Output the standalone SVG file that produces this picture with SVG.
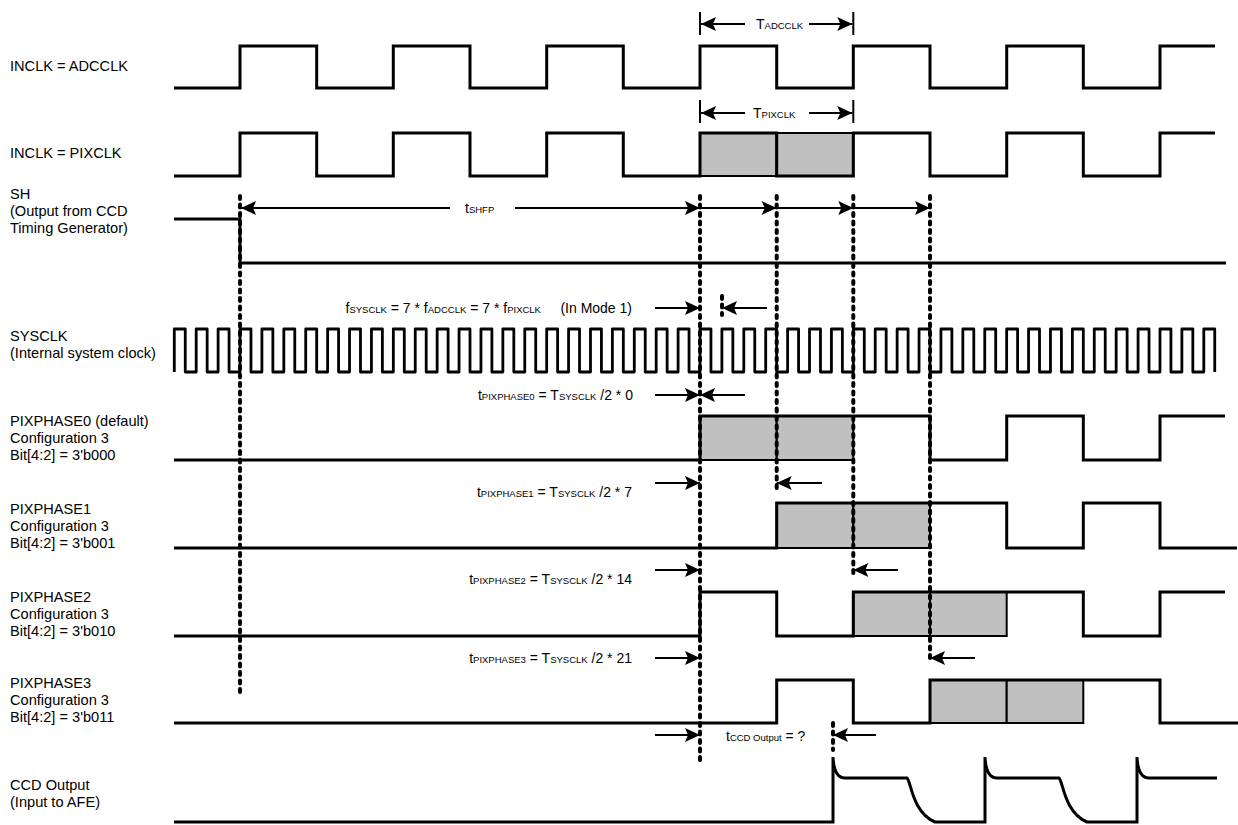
<svg xmlns="http://www.w3.org/2000/svg" width="1238" height="825" viewBox="0 0 1238 825">
<defs>
<marker id="ah" markerUnits="userSpaceOnUse" markerWidth="15" markerHeight="14" refX="15" refY="7" orient="auto" overflow="visible">
<path d="M0,0 L15,7 L0,14 L3,7 Z" fill="#000"/>
</marker>
<style>
.w{fill:none;stroke:#000;stroke-width:3;stroke-linejoin:miter}
.sc{fill:none;stroke:#000;stroke-width:2.8;stroke-linejoin:round}
.g{fill:#c0c0c0;stroke:#000;stroke-width:2}
.dot{fill:none;stroke:#000;stroke-width:4;stroke-dasharray:3 5.5;stroke-linecap:round}
.ar{fill:none;stroke:#000;stroke-width:2;marker-end:url(#ah)}
.tk{fill:none;stroke:#000;stroke-width:2}
text{font-family:"Liberation Sans",Arial,sans-serif;font-size:14px;fill:#000}
.lb{font-size:14.6px}
.s{font-size:9.5px}
</style>
</defs>
<rect width="1238" height="825" fill="#fff"/>

<g id="adcclk">
<text class="lb" x="10" y="71">INCLK = ADCCLK</text>
<path class="w" d="M174,88 H240 V46 H316.7 V88 H393.3 V46 H470 V88 H546.7 V46 H623.3 V88 H700 V46 H776.7 V88 H853.3 V46 H930 V88 H1006.7 V46 H1083.3 V88 H1160 V46 H1215"/>
</g>

<g id="pixclk">
<text class="lb" x="10" y="158">INCLK = PIXCLK</text>
<rect class="g" x="700" y="133" width="76.7" height="43"/>
<rect class="g" x="776.7" y="133" width="76.6" height="43"/>
<path class="w" d="M174,176 H240 V133 H316.7 V176 H393.3 V133 H470 V176 H546.7 V133 H623.3 V176 H700 V133 H776.7 V176 H853.3 V133 H930 V176 H1006.7 V133 H1083.3 V176 H1160 V133 H1215"/>
</g>

<g id="sh">
<text class="lb" x="10" y="199">SH</text>
<text class="lb" x="10" y="216">(Output from CCD</text>
<text class="lb" x="10" y="233">Timing Generator)</text>
<path class="w" d="M174,219 H240 V263 H1226"/>
</g>

<g id="sysclk">
<text class="lb" x="10" y="341">SYSCLK</text>
<text class="lb" x="10" y="358">(Internal system clock)</text>
<path class="sc" d="M174.3,372 v-43h10.952v43h10.952 v-43h10.952v43h10.952 v-43h10.952v43h10.952 v-43h10.952v43h10.952 v-43h10.952v43h10.952 v-43h10.952v43h10.952 v-43h10.952v43h10.952 v-43h10.952v43h10.952 v-43h10.952v43h10.952 v-43h10.952v43h10.952 v-43h10.952v43h10.952 v-43h10.952v43h10.952 v-43h10.952v43h10.952 v-43h10.952v43h10.952 v-43h10.952v43h10.952 v-43h10.952v43h10.952 v-43h10.952v43h10.952 v-43h10.952v43h10.952 v-43h10.952v43h10.952 v-43h10.952v43h10.952 v-43h10.952v43h10.952 v-43h10.952v43h10.952 v-43h10.952v43h10.952 v-43h10.952v43h10.952 v-43h10.952v43h10.952 v-43h10.952v43h10.952 v-43h10.952v43h10.952 v-43h10.952v43h10.952 v-43h10.952v43h10.952 v-43h10.952v43h10.952 v-43h10.952v43h10.952 v-43h10.952v43h10.952 v-43h10.952v43h10.952 v-43h10.952v43h10.952 v-43h10.952v43h10.952 v-43h10.952v43h10.952 v-43h10.952v43h10.952 v-43h10.952v43h10.952 v-43h10.952v43h10.952 v-43h10.952v43h10.952 v-43h10.952v43h10.952 v-43h10.952v43h10.952 v-43h10.952v43h10.952 v-43h10.952v43h10.952 v-43h10.952v43h10.952 v-43h10.952v43h10.952 v-43h10.952v43h10.952 v-43h10.952v43"/>
</g>

<g id="pixphase0">
<text class="lb" x="10" y="426">PIXPHASE0 (default)</text>
<text class="lb" x="10" y="443">Configuration 3</text>
<text class="lb" x="10" y="460">Bit[4:2] = 3'b000</text>
<rect class="g" x="700" y="416" width="76.7" height="44"/>
<rect class="g" x="776.7" y="416" width="76.6" height="44"/>
<path class="w" d="M174,460 H700 V416 H930 V460 H1006.7 V416 H1083.3 V460 H1160 V416 H1225"/>
</g>

<g id="pixphase1">
<text class="lb" x="10" y="514">PIXPHASE1</text>
<text class="lb" x="10" y="531">Configuration 3</text>
<text class="lb" x="10" y="548">Bit[4:2] = 3'b001</text>
<rect class="g" x="776.7" y="503" width="76.6" height="45"/>
<rect class="g" x="853.3" y="503" width="76.7" height="45"/>
<path class="w" d="M174,548 H776.7 V503 H1006.7 V548 H1083.3 V503 H1160 V548 H1237"/>
</g>

<g id="pixphase2">
<text class="lb" x="10" y="602">PIXPHASE2</text>
<text class="lb" x="10" y="619">Configuration 3</text>
<text class="lb" x="10" y="636">Bit[4:2] = 3'b010</text>
<rect class="g" x="853.3" y="592" width="76.7" height="44"/>
<rect class="g" x="930" y="592" width="76.7" height="44"/>
<path class="w" d="M174,636 H700 V592 H776.7 V636 H853.3 V592 H1083.3 V636 H1160 V592 H1225"/>
</g>

<g id="pixphase3">
<text class="lb" x="10" y="688">PIXPHASE3</text>
<text class="lb" x="10" y="705">Configuration 3</text>
<text class="lb" x="10" y="722">Bit[4:2] = 3'b011</text>
<rect class="g" x="930" y="680" width="76.7" height="43"/>
<rect class="g" x="1006.7" y="680" width="76.6" height="43"/>
<path class="w" d="M174,723 H776.7 V680 H853.3 V723 H930 V680 H1160 V723 H1238"/>
</g>

<g id="ccdoutput">
<text class="lb" x="10" y="790">CCD Output</text>
<text class="lb" x="10" y="807">(Input to AFE)</text>
<path class="w" d="M174,822 H833 V757 Q834,778 845,778 H907 C911,781 912,812 935,822 H985 V757 Q986,778 997,778 H1059 C1063,781 1064,812 1087,822 H1137 V757 Q1138,778 1149,778 H1217"/>
</g>

<g id="connectors">
<line class="dot" x1="240" y1="196" x2="240" y2="693"/>
<line class="dot" x1="700" y1="196" x2="700" y2="760"/>
<line class="dot" x1="776.7" y1="196" x2="776.7" y2="488"/>
<line class="dot" x1="853.3" y1="196" x2="853.3" y2="576"/>
<line class="dot" x1="930" y1="196" x2="930" y2="663"/>
<line class="dot" x1="722" y1="296" x2="722" y2="315"/>
<line class="dot" x1="833" y1="723" x2="833" y2="750"/>

<line class="tk" x1="700" y1="12" x2="700" y2="35"/>
<line class="tk" x1="853.3" y1="12" x2="853.3" y2="35"/>
<line class="ar" x1="745" y1="24" x2="701" y2="24"/>
<line class="ar" x1="809" y1="24" x2="852.3" y2="24"/>
<text x="756" y="29">T<tspan class="s">ADCCLK</tspan></text>

<line class="tk" x1="700" y1="100" x2="700" y2="123"/>
<line class="tk" x1="853.3" y1="100" x2="853.3" y2="123"/>
<line class="ar" x1="745" y1="113" x2="701" y2="113"/>
<line class="ar" x1="809" y1="113" x2="852.3" y2="113"/>
<text x="753" y="118">T<tspan class="s">PIXCLK</tspan></text>

<line class="ar" x1="450" y1="208" x2="241" y2="208"/>
<text x="465" y="213">t<tspan class="s">SHFP</tspan></text>
<line class="ar" x1="515" y1="208" x2="700" y2="208"/>
<line class="ar" x1="700" y1="208" x2="776.7" y2="208"/>
<line class="ar" x1="776.7" y1="208" x2="853.3" y2="208"/>
<line class="ar" x1="853.3" y1="208" x2="930" y2="208"/>

<text x="632" y="313" text-anchor="end" xml:space="preserve">f<tspan class="s">SYSCLK</tspan> = 7 * f<tspan class="s">ADCCLK</tspan> = 7 * f<tspan class="s">PIXCLK</tspan>     (In Mode 1)</text>
<line class="ar" x1="655" y1="308" x2="700" y2="308"/>
<line class="ar" x1="767" y1="308" x2="722" y2="308"/>

<text x="633" y="400" text-anchor="end">t<tspan class="s">PIXPHASE0</tspan> = T<tspan class="s">SYSCLK</tspan> /2 * 0</text>
<line class="ar" x1="655" y1="395" x2="700" y2="395"/>
<line class="ar" x1="745" y1="395" x2="700" y2="395"/>

<text x="632" y="497" text-anchor="end">t<tspan class="s">PIXPHASE1</tspan> = T<tspan class="s">SYSCLK</tspan> /2 * 7</text>
<line class="ar" x1="655" y1="483" x2="700" y2="483"/>
<line class="ar" x1="822" y1="483" x2="776.7" y2="483"/>

<text x="632" y="584" text-anchor="end">t<tspan class="s">PIXPHASE2</tspan> = T<tspan class="s">SYSCLK</tspan> /2 * 14</text>
<line class="ar" x1="655" y1="570" x2="700" y2="570"/>
<line class="ar" x1="898" y1="570" x2="853.3" y2="570"/>

<text x="632" y="663" text-anchor="end">t<tspan class="s">PIXPHASE3</tspan> = T<tspan class="s">SYSCLK</tspan> /2 * 21</text>
<line class="ar" x1="655" y1="658" x2="700" y2="658"/>
<line class="ar" x1="975" y1="658" x2="930" y2="658"/>

<text x="726" y="741">t<tspan class="s">CCD Output</tspan> = ?</text>
<line class="ar" x1="655" y1="735" x2="700" y2="735"/>
<line class="ar" x1="876" y1="735" x2="833" y2="735"/>
</g>
</svg>
